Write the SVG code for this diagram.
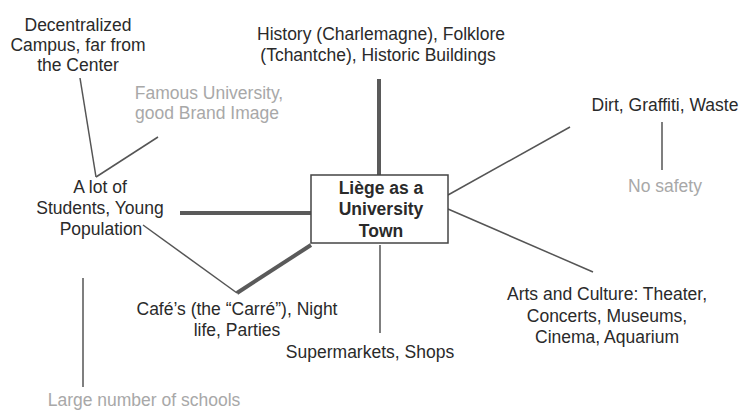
<svg xmlns="http://www.w3.org/2000/svg" width="742" height="412" viewBox="0 0 742 412">
<style>
text{font-family:"Liberation Sans",Arial,sans-serif;font-size:17.5px;fill:#2a2a2a;text-anchor:middle}
.g{fill:#a8a8a8}
.b{font-weight:bold}
.thin{stroke:#555;stroke-width:1.5;fill:none}
.thick{stroke:#5a5a5a;stroke-width:4;fill:none}
</style>
<rect width="742" height="412" fill="#fff"/>
<g id="connectors">
<line class="thick" x1="379" y1="79" x2="379" y2="175"/>
<line class="thick" x1="180" y1="213" x2="311" y2="213"/>
<polyline class="thick" points="311,245 237,293"/>
<line class="thin" x1="143" y1="225" x2="237" y2="293"/>
<line class="thin" x1="380" y1="245" x2="380" y2="333"/>
<line class="thin" x1="448" y1="195" x2="570" y2="127"/>
<line class="thin" x1="448" y1="209" x2="593" y2="272"/>
<line class="thin" x1="662" y1="122" x2="662" y2="170"/>
<line class="thin" x1="80" y1="78" x2="96" y2="177"/>
<line class="thin" x1="96" y1="177" x2="158" y2="137"/>
<line class="thin" x1="83" y1="278" x2="83" y2="387"/>
</g>
<g id="center">
<rect x="311" y="175" width="137" height="68" fill="#fff" stroke="#444" stroke-width="1.5"/>
<text class="b" x="381" y="194">Liège as a</text>
<text class="b" x="381" y="215">University</text>
<text class="b" x="381" y="237">Town</text>
</g>
<g id="history">
<text x="381" y="40">History (Charlemagne), Folklore</text>
<text x="378" y="61">(Tchantche), Historic Buildings</text>
</g>
<g id="decentralized">
<text x="78" y="31">Decentralized</text>
<text x="78" y="51">Campus, far from</text>
<text x="78" y="71">the Center</text>
</g>
<g id="famous">
<text class="g" x="209" y="99">Famous University,</text>
<text class="g" x="207" y="119">good Brand Image</text>
</g>
<g id="students">
<text x="100" y="193">A lot of</text>
<text x="100" y="214">Students, Young</text>
<text x="101" y="235">Population</text>
</g>
<g id="cafes">
<text x="237" y="315">Café’s (the “Carré”), Night</text>
<text x="237" y="336">life, Parties</text>
</g>
<g id="supermarkets">
<text x="370" y="358">Supermarkets, Shops</text>
</g>
<g id="arts">
<text x="607" y="300">Arts and Culture: Theater,</text>
<text x="607" y="322">Concerts, Museums,</text>
<text x="607" y="343">Cinema, Aquarium</text>
</g>
<g id="dirt">
<text x="665" y="111">Dirt, Graffiti, Waste</text>
</g>
<g id="safety">
<text class="g" x="665" y="192">No safety</text>
</g>
<g id="schools">
<text class="g" x="144" y="406">Large number of schools</text>
</g>
</svg>
